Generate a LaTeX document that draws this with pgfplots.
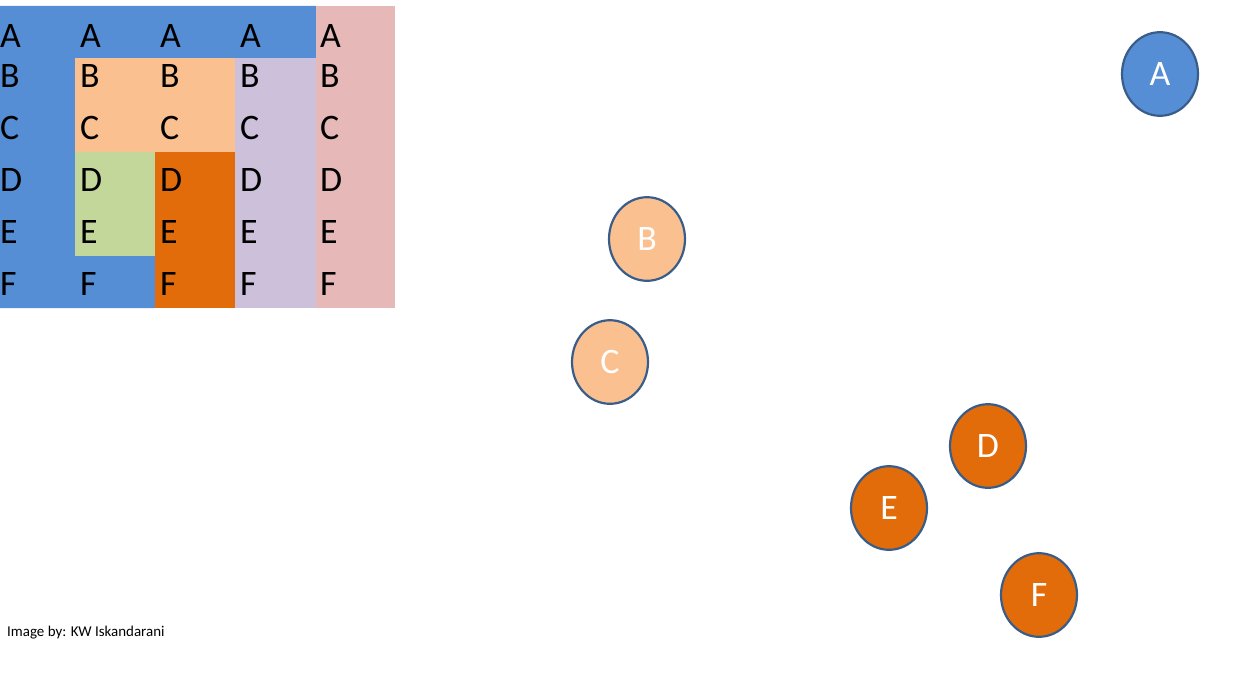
\documentclass[border=0pt]{standalone}
\usepackage{pgfplots}
\pgfplotsset{compat=1.18}
\usepackage{fontspec}
\setmainfont{Carlito}
\definecolor{cblue}{HTML}{558ED5}
\definecolor{cpeach}{HTML}{FAC090}
\definecolor{cgreen}{HTML}{C4D79B}
\definecolor{corange}{HTML}{E26B0A}
\definecolor{clav}{HTML}{CCC0DA}
\definecolor{cpink}{HTML}{E6B8B7}
\definecolor{cedge}{HTML}{385D8A}
\begin{document}
\begin{tikzpicture}
\begin{axis}[scale only axis, width=1248bp, height=689bp,
  xmin=0,xmax=1248,ymin=0,ymax=689, y dir=reverse, hide axis, clip=false]
\addplot[draw=none, mark=none] coordinates {(0,0)(1248,689)};
% grid cells
\addplot[fill=cblue,draw=none] coordinates {(0,6)(316,6)(316,58)(75,58)(75,256)(155,256)(155,308)(0,308)} -- cycle;
\addplot[fill=cpink,draw=none] coordinates {(316,6)(395,6)(395,308)(316,308)} -- cycle;
\addplot[fill=cpeach,draw=none] coordinates {(75,58)(235,58)(235,152)(75,152)} -- cycle;
\addplot[fill=cgreen,draw=none] coordinates {(75,152)(155,152)(155,256)(75,256)} -- cycle;
\addplot[fill=corange,draw=none] coordinates {(155,152)(235,152)(235,308)(155,308)} -- cycle;
\addplot[fill=clav,draw=none] coordinates {(235,58)(316,58)(316,308)(235,308)} -- cycle;
% grid letters
\addplot[only marks, mark=none, point meta=explicit symbolic,
  nodes near coords, nodes near coords align={anchor=west},
  every node near coord/.append style={font=\fontsize{36}{40}\selectfont, inner sep=0pt, text=black}]
  table[meta=l] {
x y l
0 36 A
0 76 B
0 128 C
0 180 D
0 232 E
0 284 F
80 36 A
80 76 B
80 128 C
80 180 D
80 232 E
80 284 F
160 36 A
160 76 B
160 128 C
160 180 D
160 232 E
160 284 F
240 36 A
240 76 B
240 128 C
240 180 D
240 232 E
240 284 F
320 36 A
320 76 B
320 128 C
320 180 D
320 232 E
320 284 F
};
% circles
\addplot[only marks, mark=*, mark size=38bp, mark options={yscale=1.1, fill=cblue, draw=cedge, line width=2.2bp},
  point meta=explicit symbolic, nodes near coords, nodes near coords align={center},
  every node near coord/.append style={font=\fontsize{36}{40}\selectfont, text=white, anchor=center}]
  table[meta=l] {
x y l
1160 74 A
};
\addplot[only marks, mark=*, mark size=38bp, mark options={yscale=1.1, fill=cpeach, draw=cedge, line width=2.2bp},
  point meta=explicit symbolic, nodes near coords, nodes near coords align={center},
  every node near coord/.append style={font=\fontsize{36}{40}\selectfont, text=white, anchor=center}]
  table[meta=l] {
x y l
647 239 B
610 362 C
};
\addplot[only marks, mark=*, mark size=38bp, mark options={yscale=1.1, fill=corange, draw=cedge, line width=2.2bp},
  point meta=explicit symbolic, nodes near coords, nodes near coords align={center},
  every node near coord/.append style={font=\fontsize{36}{40}\selectfont, text=white, anchor=center}]
  table[meta=l] {
x y l
988 446 D
889 508 E
1039 595 F
};
% caption
\addplot[only marks, mark=none, point meta=explicit symbolic, nodes near coords,
  nodes near coords align={anchor=west},
  every node near coord/.append style={font=\fontsize{15}{17}\selectfont, inner sep=0pt, text=black}]
  table[meta=l, col sep=comma] {
x,y,l
7,633,Image by: KW Iskandarani
};
\end{axis}
\end{tikzpicture}
\end{document}
